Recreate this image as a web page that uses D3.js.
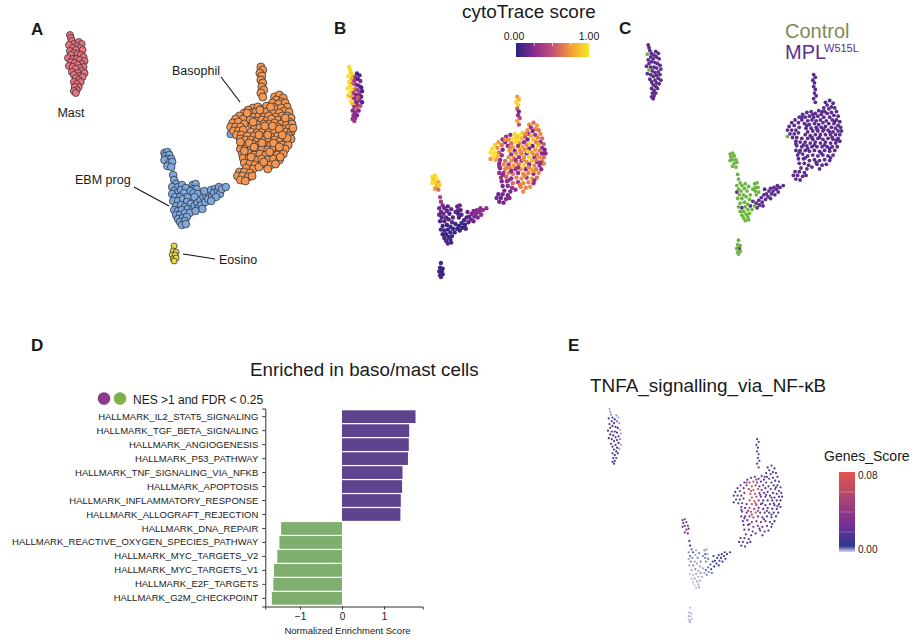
<!DOCTYPE html>
<html>
<head>
<meta charset="utf-8">
<script src="https://cdn.jsdelivr.net/npm/d3@7"></script>
<style>
  html, body { margin: 0; padding: 0; background: #fff; }
  text { font-family: "Liberation Sans", Arial, sans-serif; fill: #1a1a1a; }
</style>
</head>
<body>
<div id="figure"></div>
<script>
// Cells read off the UMAP: [umap1, umap2, cytoTrace, tnfaScore, genotype]
// genotype is left out for MPL cells, 0 means control
const mastCells = [
  [68,35,.95,.002],[69,38,.97,.002],[70,41,.93,.003],[72,44,.9,.006],[77,42,.08,.003],[80,44,.12,.002],[67,45,.98,.01,0],[75,46,.3,.008],
  [71,48,.8,.01],[78,48,.06,.004],[74,50,.35,.02],[68,51,.94,.012],[81,50,.2,.002],[72,53,.55,.018],[76,54,.3,.022],[69,55,.97,.014],
  [79,55,.15,.006],[82,57,.05,.002],[66,58,.96,.012],[71,59,.98,.02],[75,59,.6,.018],[78,60,.35,.02],[69,62,.98,.012,0],[83,61,.1,.002],
  [73,63,.4,.022],[80,64,.3,.012],[76,65,.2,.014],[67,66,.92,.01],[71,67,.75,.02],[82,67,.15,.003],[78,68,.55,.016],[74,69,.25,.022],
  [70,72,.96,.016],[80,71,.3,.006],[76,73,.2,.02],[83,73,.12,.002],[72,75,.85,.018],[78,76,.28,.014],[81,77,.5,.003],[74,78,.3,.02],
  [77,80,.6,.012],[72,82,.25,.014],[79,82,.22,.008],[75,84,.28,.016],[77,87,.2,.02],[73,87,.26,.012],[75,90,.28,.018],[72,91,.3,.014],[74,93,.32,.012]
];
const ebmCells = [
  [165,153,.97,.026,0],[168,152,.95,.03,0],[166,156,.9,.028,0],[170,155,.98,.034,0],[168,159,.93,.025,0],[172,159,.8,.03,0],
  [165,160,.96,.024,0],[170,163,.85,.032,0],[173,162,.9,.026,0],[168,166,.75,.028,0],[172,167,.6,.02,0],[174,175,.4,.014,0],[175,180,.35,.016,0],
  [177,184,.22,.004,0],[173,187,.2,.003,0],[179,187,.18,.005,0],[183,185,.12,.002,0],[175,191,.15,.004,0],[178,193,.17,.003,0],
  [173,194,.14,.002,1],[182,190,.12,.002,0],[187,188,.16,.003,0],[185,193,.1,.003,0],[176,197,.12,.003,0],[181,197,.14,.002,0],
  [174,201,.1,.002,0],[179,201,.12,.003,0],[184,199,.08,.002,0],[189,197,.14,.003,0],[188,202,.1,.002,0],[192,204,.06,.002,1],
  [177,206,.06,.002,0],[182,205,.05,.003,0],[186,207,.07,.002,0],[175,210,.08,.001,0],[179,211,.08,.001,1],[183,210,.05,.002,0],
  [189,209,.06,.003,1],[194,209,.05,.002,0],[177,215,.07,.001,0],[181,215,.05,.002,0],[186,213,.04,.002,0],[191,213,.06,.002,0],
  [179,219,.06,.001,0],[184,218,.05,.002,0],[188,217,.08,.002,0],[181,222,.08,.001,0],[186,221,.06,.002,0],[183,225,.1,.001,0],[187,224,.09,.002,0],
  [194,185,.16,.003,0],[197,184,.18,.002,0],[195,189,.15,.004,0],[192,191,.14,.003,0],[198,189,.12,.002,0],[195,193,.1,.003,0],
  [199,194,.12,.004,0],[196,197,.08,.003,0],
  [196,206,.04,.004],[199,203,.03,.004],[202,200,.05,.005],[205,197,.08,.005],[200,208,.04,.003],[197,211,.04,.003],[203,205,.05,.005],
  [207,202,.1,.006],[204,209,.07,.004],[208,196,.14,.008],[211,193,.2,.012],[210,199,.16,.01],[214,196,.22,.016],[206,191,.16,.008],
  [213,190,.24,.012],[217,189,.25,.018],[216,193,.26,.016],[220,191,.27,.014],[222,194,.26,.018],[218,197,.22,.014],[213,201,.18,.012],
  [221,187,.28,.016],[224,189,.28,.012],[228,187,.3,.014],[233,134,.72,.012,0]
];
const eosCells = [
  [175,246,.1,.001,0],[174,251,.06,.002,0],[177,252,.05,.001,0],[173,255,.08,.002,0],[176,255,.04,.001,1],[174,259,.06,.002,0],
  [177,258,.05,.001,0],[175,261,.07,.002,0]
];
const basoCells = [
  [264,67,.75,.02],[266,70,.85,.015],[263,73,.95,.02],[265,76,.92,.018],[264,80,.55,.03],[266,83,.2,.025],[265,87,.3,.02],
  [267,90,.45,.03],[264,93,.8,.025],[266,97,.5,.03],
  [278,97,.7,.015],[283,95,.6,.02],[287,98,.75,.015],[280,100,.3,.02],[285,102,.68,.016],[276,103,.72,.018],[282,104,.22,.02],[289,103,.62,.014],
  [291,107,.7,.012],[277,107,.3,.02],[256,108,.22,.022],[261,107,.95,.03],[266,109,.97,.02],[270,106,.9,.024],[273,110,.55,.02],[280,109,.78,.018],[285,108,.3,.016],[288,111,.66,.015],
  [293,112,.6,.012],[251,110,.3,.03],[247,113,.25,.02],[254,113,.7,.055],[259,112,.96,.06],[264,113,.98,.03],[269,112,.85,.028],[276,113,.2,.02],[283,113,.85,.016],
  [242,116,.78,.02],[250,116,.3,.04],[257,117,.62,.07],[262,116,.95,.05],[267,117,.72,.03],[272,116,.25,.022],[279,117,.96,.016],[286,116,.68,.02],[291,116,.22,.012],[295,118,.55,.012],
  [238,119,.92,.018],[246,119,.62,.022],[253,120,.28,.05],[259,121,.75,.075],[265,120,.3,.06],[270,121,.8,.03],[275,119,.7,.02],[282,120,.18,.018],[288,120,.92,.02],[293,122,.3,.014],
  [235,123,.95,.014],[241,122,.72,.022],[247,124,.2,.026],[255,125,.75,.07],[261,125,.25,.06],[267,124,.8,.05],[273,124,.68,.03],[278,123,.2,.022],[285,124,.75,.02],[290,125,.65,.016],[296,124,.2,.012],
  [233,127,.98,.014],[238,127,.97,.018],[243,127,.6,.024],[257,129,.3,.078],[263,128,.72,.05],[269,128,.68,.03],[275,128,.2,.022],[281,127,.75,.02],[287,129,.65,.018],[293,128,.2,.014],
  [236,131,.97,.016],[241,131,.85,.018],[246,130,.3,.02],[254,132,.72,.06],[260,133,.68,.075],[266,132,.3,.04],[272,132,.72,.026],[278,132,.92,.02],[284,132,.25,.016],[290,132,.7,.018],[295,132,.6,.012],
  [239,135,.8,.014],[244,135,.25,.02],[250,136,.6,.03],[257,136,.72,.07],[263,137,.65,.05],[269,136,.3,.022],[275,137,.7,.018],[281,136,.82,.02],[287,137,.2,.014],[293,136,.65,.012],
  [243,139,.2,.022],[248,140,.7,.03],[254,140,.3,.065],[260,141,.75,.06],[266,140,.68,.03],[272,141,.9,.02],[278,140,.22,.018],[284,141,.7,.02],[290,141,.3,.012],[295,139,.68,.012],
  [244,144,.22,.02],[250,145,.65,.03],[256,144,.7,.05],[262,145,.3,.07],[268,145,.72,.03],[274,145,.25,.02],[280,145,.78,.018],[286,145,.62,.014],[292,145,.25,.012],
  [243,149,.28,.022],[248,149,.3,.024],[254,149,.7,.04],[259,150,.62,.05],[265,149,.25,.028],[271,150,.7,.022],[277,149,.68,.018],[283,150,.22,.014],[289,149,.7,.012],
  [245,154,.3,.018],[251,153,.55,.022],[257,155,.25,.03],[263,154,.68,.035],[269,155,.72,.026],[275,154,.3,.02],[281,155,.75,.016],[287,154,.6,.012],
  [246,158,.22,.02],[252,158,.28,.024],[259,160,.6,.03],[265,159,.3,.03],[271,160,.7,.02],[277,159,.68,.018],[283,160,.3,.014],
  [247,163,.2,.018],[253,163,.25,.02],[258,165,.3,.024],[268,164,.62,.02],[274,165,.66,.016],[279,164,.72,.014],
  [249,168,.22,.016],[256,169,.2,.018],[262,167,.26,.018],[271,169,.7,.014],
  [242,172,.18,.016],[247,172,.22,.02],[253,173,.2,.022],[240,176,.2,.012],[245,176,.16,.018],[251,177,.22,.014],[255,176,.24,.014],[243,180,.2,.016],[248,181,.18,.012],
  [263,110,.9,.04],[274,107,.7,.02],[256,122,.7,.06],[250,113,.72,.04],[268,126,.7,.03],[276,126,.92,.018],[283,129,.72,.016],[262,135,.3,.06],
  [271,135,.7,.022],[291,138,.3,.012],[277,143,.68,.02],[252,143,.68,.04],[265,143,.3,.05],[283,147,.72,.014],[257,147,.25,.06],[247,151,.26,.018],
  [273,152,.68,.02],[284,157,.3,.014],[254,157,.3,.026],[267,162,.66,.024],[243,142,.3,.018],[289,118,.8,.014],[297,128,.25,.012],[286,135,.68,.014]
];
const allCells = mastCells.concat(ebmCells, eosCells, basoCells);

// Hallmark gene sets and their normalized enrichment scores
const hallmarkSets = [
  "HALLMARK_IL2_STAT5_SIGNALING", "HALLMARK_TGF_BETA_SIGNALING", "HALLMARK_ANGIOGENESIS", "HALLMARK_P53_PATHWAY",
  "HALLMARK_TNF_SIGNALING_VIA_NFKB", "HALLMARK_APOPTOSIS", "HALLMARK_INFLAMMATORY_RESPONSE", "HALLMARK_ALLOGRAFT_REJECTION",
  "HALLMARK_DNA_REPAIR", "HALLMARK_REACTIVE_OXYGEN_SPECIES_PATHWAY", "HALLMARK_MYC_TARGETS_V2", "HALLMARK_MYC_TARGETS_V1",
  "HALLMARK_E2F_TARGETS", "HALLMARK_G2M_CHECKPOINT"
];
const nesValues = [1.75, 1.6, 1.59, 1.57, 1.44, 1.43, 1.4, 1.39, -1.45, -1.49, -1.54, -1.62, -1.635, -1.67];
const nesTicks = [-1, 0, 1];

const cytoStops = [0, .25, .5, .75, 1];
const cytoColors = ["#27247f", "#8a2a8e", "#c4507a", "#f59a35", "#f7ea26"];
const tnfaStops = [0, .006, .03, .08];
const tnfaColors = ["#dcd9ea", "#2c3791", "#7c3194", "#e2574a"];

const svg = d3.select("#figure").append("svg")
    .attr("width", 918)
    .attr("height", 643);
const defs = svg.append("defs");

const umapX = d3.extent(allCells, d => d[0]);
const umapY = d3.extent(allCells, d => d[1]);

function addText(x, y, str, size, anchor, weight) {
    return svg.append("text")
        .attr("x", x)
        .attr("y", y)
        .attr("text-anchor", anchor || "start")
        .style("font-size", size + "px")
        .style("font-weight", weight || "normal")
        .text(str);
}

// Draw one UMAP panel, the same cells go in a different box every time
function drawUmap(cells, box, radius, fill, stroke) {
    const xScale = d3.scaleLinear().domain(umapX).range([box.x0, box.x1]);
    const yScale = d3.scaleLinear().domain(umapY).range([box.y0, box.y1]);
    svg.append("g").selectAll("circle")
        .data(cells)
        .enter()
        .append("circle")
        .attr("cx", d => xScale(d[0]))
        .attr("cy", d => yScale(d[1]))
        .attr("r", radius)
        .style("fill", fill)
        .style("stroke", stroke || "none")
        .style("stroke-width", stroke ? .75 : 0);
}

function addGradient(id, colorScale, stops, maxStop, vertical) {
    const grad = defs.append("linearGradient").attr("id", id)
        .attr("x1", "0%").attr("y1", vertical ? "100%" : "0%")
        .attr("x2", vertical ? "0%" : "100%").attr("y2", "0%");
    stops.forEach(s => {
        grad.append("stop")
            .attr("offset", (s / maxStop * 100) + "%")
            .attr("stop-color", colorScale(s));
    });
}

// Panel letters
addText(31, 35, "A", 17, "start", "bold");
addText(334, 34, "B", 17, "start", "bold");
addText(619, 34, "C", 17, "start", "bold");
addText(31, 351, "D", 17, "start", "bold");
addText(568, 351, "E", 17, "start", "bold");

// Panel A, clusters
const boxA = {x0: 68, x1: 293, y0: 35, y1: 261};
drawUmap(ebmCells, boxA, 3.8, "#7fa8dc", "#2a2f3a");
drawUmap(eosCells, boxA, 3, "#e8dc3a", "#2a2f3a");
drawUmap(mastCells, boxA, 3.5, "#ec727c", "#2a2f3a");
drawUmap(basoCells, boxA, 4, "#f49650", "#2a2f3a");

addText(71, 117, "Mast", 12.5, "middle");
addText(172, 75, "Basophil", 12.5);
addText(75, 184, "EBM prog", 12.5);
addText(219, 264, "Eosino", 12.5);

const calloutLines = [[221, 77, 240, 102], [134, 187, 169, 206], [183, 254, 215, 259]];
svg.append("g").selectAll("line")
    .data(calloutLines)
    .enter()
    .append("line")
    .attr("x1", d => d[0]).attr("y1", d => d[1])
    .attr("x2", d => d[2]).attr("y2", d => d[3])
    .style("stroke", "#1a1a1a")
    .style("stroke-width", 1.2);

// Panel B, cytoTrace score
const cytoColor = d3.scaleLinear().domain(cytoStops).range(cytoColors);
const boxB = {x0: 347.5, x1: 545.5, y0: 67, y1: 277};
drawUmap(allCells, boxB, 2.2, d => cytoColor(d[2]));

addText(462, 18, "cytoTrace score", 18.9);
addGradient("cytoGrad", cytoColor, cytoStops, 1, false);
const cytoLegend = d3.scaleLinear().domain([0, 1]).range([516, 589]);
svg.append("rect")
    .attr("x", cytoLegend(0)).attr("y", 43)
    .attr("width", cytoLegend(1) - cytoLegend(0)).attr("height", 14)
    .style("fill", "url(#cytoGrad)");
svg.append("g").selectAll("line")
    .data([.25, .5, .75])
    .enter()
    .append("line")
    .attr("x1", d => cytoLegend(d)).attr("x2", d => cytoLegend(d))
    .attr("y1", 43).attr("y2", 46)
    .style("stroke", "#fff")
    .style("stroke-width", .7);
addText(514, 40, "0.00", 10.5, "middle");
addText(589, 40, "1.00", 10.5, "middle");

// Panel C, genotype
const genoColor = ["#6fb544", "#5b2d8e"];
const boxC = {x0: 646.5, x1: 841.5, y0: 45, y1: 254};
drawUmap(allCells.filter(d => d[4] !== 0), boxC, 1.9, genoColor[1]);
drawUmap(allCells.filter(d => d[4] === 0), boxC, 1.9, genoColor[0]);

addText(785, 38, "Control", 20).style("fill", "#7c8b58");
addText(785, 59, "MPL", 20).style("fill", genoColor[1]);
addText(824, 52, "W515L", 11).style("fill", genoColor[1]);

// Panel D, enrichment bars
const xBar = d3.scaleLinear().domain([-1.826, 1.921]).range([265.3, 422.7]);
const yBar = d3.scaleBand().domain(hallmarkSets).range([408.5, 606.5]).paddingInner(.09).paddingOuter(.13);

svg.append("g").selectAll("rect")
    .data(nesValues)
    .enter()
    .append("rect")
    .attr("x", d => xBar(Math.min(0, d)))
    .attr("y", (d, i) => yBar(hallmarkSets[i]))
    .attr("width", d => Math.abs(xBar(d) - xBar(0)))
    .attr("height", yBar.bandwidth())
    .style("fill", d => d > 0 ? "#5e448f" : "#7fae6e");

const yAxis = svg.append("g")
    .attr("transform", "translate(265.3,0)")
    .call(d3.axisLeft(yBar).tickSizeOuter(0).tickSize(3).tickPadding(4));
const xAxis = svg.append("g")
    .attr("transform", "translate(0,606.5)")
    .call(d3.axisBottom(xBar).tickValues(nesTicks).tickFormat(d3.format("d")).tickSizeOuter(0).tickSize(3).tickPadding(3));
yAxis.selectAll("text").style("font-size", "9.5px").style("font-family", '"Liberation Sans", Arial, sans-serif');
xAxis.selectAll("text").style("font-size", "10px").style("font-family", '"Liberation Sans", Arial, sans-serif');
svg.selectAll(".domain, .tick line").style("stroke", "#333");

addText(347.5, 634, "Normalized Enrichment Score", 9.5, "middle");
addText(250, 376, "Enriched in baso/mast cells", 18.8);
addText(133, 404, "NES >1 and FDR < 0.25", 12);
svg.append("circle").attr("cx", 104).attr("cy", 398.5).attr("r", 6.3).style("fill", "#8e3a8f");
svg.append("circle").attr("cx", 120).attr("cy", 398.5).attr("r", 6.3).style("fill", "#80b04a");

// Panel E, TNFA score
const tnfaColor = d3.scaleLinear().domain(tnfaStops).range(tnfaColors);
const boxE = {x0: 608, x1: 782, y0: 409, y1: 622};
drawUmap(allCells, boxE, 1.1, d => tnfaColor(d[3]));

addText(590, 392, "TNFA_signalling_via_NF-κB", 18.9);
addText(824, 461, "Genes_Score", 14);
addGradient("tnfaGrad", tnfaColor, tnfaStops, .08, true);
const tnfaLegend = d3.scaleLinear().domain([0, .08]).range([552, 472]);
svg.append("rect")
    .attr("x", 839).attr("y", tnfaLegend(.08))
    .attr("width", 16).attr("height", tnfaLegend(0) - tnfaLegend(.08))
    .style("fill", "url(#tnfaGrad)");
svg.append("g").selectAll("line")
    .data([.02, .04, .06])
    .enter()
    .append("line")
    .attr("x1", 839).attr("x2", 855)
    .attr("y1", d => tnfaLegend(d)).attr("y2", d => tnfaLegend(d))
    .style("stroke", "#fff")
    .style("stroke-opacity", .35)
    .style("stroke-width", .7);
addText(858, 479, "0.08", 10);
addText(858, 553, "0.00", 10);
</script>
</body>
</html>
